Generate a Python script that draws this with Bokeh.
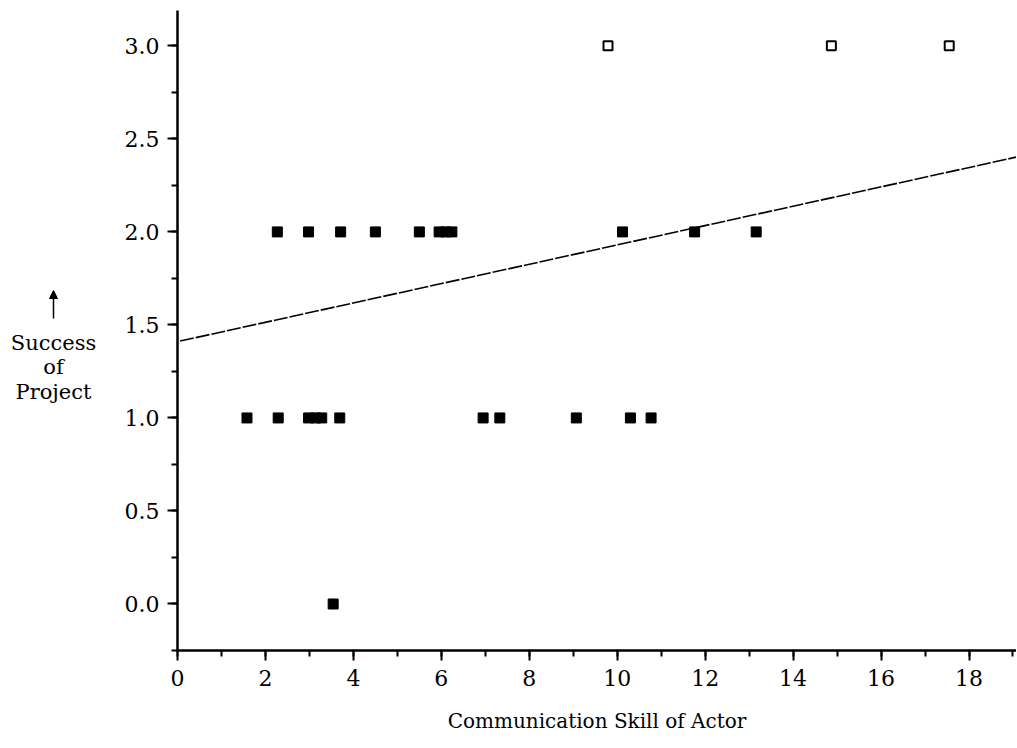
from bokeh.plotting import figure
from bokeh.layouts import row
from bokeh.models import Arrow, NormalHead, SingleIntervalTicker, PrintfTickFormatter, Range1d, Slope
from bokeh.core.properties import value
from bokeh.embed import file_html
from bokeh.resources import INLINE

# Data
x_filled_2 = [2.27, 2.98, 3.71, 4.50, 5.50, 5.95, 6.10, 6.24, 10.12, 11.76, 13.16]
y_filled_2 = [2.0] * len(x_filled_2)
x_filled_1 = [1.58, 2.29, 2.98, 3.14, 3.28, 3.69, 6.95, 7.33, 9.07, 10.30, 10.77]
y_filled_1 = [1.0] * len(x_filled_1)
x_filled_0 = [3.54]
y_filled_0 = [0.0]
x_open = [9.79, 14.87, 17.55]
y_open = [3.0, 3.0, 3.0]
fit_intercept = 1.41
fit_slope = 0.052

x_title = "Communication Skill of Actor"
y_title_lines = ["Success", "of", "Project"]

FONT = "DejaVu Serif"
H = 746
LEFT_W = 107
FRAME_TOP = 10
FRAME_BOTTOM = 650

# ---- left panel holding the horizontal y-axis title (its frame aligns with the main frame) ----
lp = figure(width=LEFT_W, height=H, output_backend="svg", toolbar_location=None,
            x_range=Range1d(0, LEFT_W), y_range=Range1d(FRAME_BOTTOM, FRAME_TOP),
            min_border_left=0, min_border_right=0, min_border_top=FRAME_TOP,
            min_border_bottom=H - FRAME_BOTTOM)
lp.axis.visible = False
lp.grid.visible = False
lp.outline_line_color = None
lp.background_fill_color = "white"
lp.border_fill_color = "white"
lp.text(x=[53, 53, 53], y=[342, 366, 391], text=y_title_lines, text_align="center",
        text_baseline="alphabetic", text_font=value(FONT), text_font_size="21px", text_color="black")
lp.add_layout(Arrow(x_start=53, y_start=318, x_end=53, y_end=290,
                    line_color="black", line_width=1.5,
                    end=NormalHead(size=8, fill_color="black", line_color="black")))

# ---- main plot ----
p = figure(width=1016 - LEFT_W, height=H, output_backend="svg", toolbar_location=None,
           x_range=Range1d(0, 19.08), y_range=Range1d(-0.25, 3.19),
           min_border_left=177 - LEFT_W, min_border_right=0, min_border_top=FRAME_TOP,
           min_border_bottom=H - FRAME_BOTTOM)
p.outline_line_color = None
p.grid.visible = False
p.background_fill_color = "white"
p.border_fill_color = "white"

xf = x_filled_2 + x_filled_1 + x_filled_0
yf = y_filled_2 + y_filled_1 + y_filled_0
p.scatter(xf, yf, marker="square", size=10, fill_color="black", line_color="black", line_width=1)
p.scatter(x_open, y_open, marker="square", size=9, fill_color="white", line_color="black", line_width=2)

p.add_layout(Slope(gradient=fit_slope, y_intercept=fit_intercept, line_color="black",
                   line_width=1.6, line_dash="14 2"))

for ax in (p.xaxis[0], p.yaxis[0]):
    ax.axis_line_color = "black"
    ax.axis_line_width = 2.5
    ax.major_tick_line_color = "black"
    ax.minor_tick_line_color = "black"
    ax.major_tick_line_width = 2
    ax.minor_tick_line_width = 2
    ax.major_tick_in = 0
    ax.minor_tick_in = 0
    ax.major_tick_out = 10
    ax.minor_tick_out = 6
    ax.major_label_text_font = FONT
    ax.major_label_text_font_size = "22px"
    ax.major_label_text_color = "black"

p.xaxis[0].ticker = SingleIntervalTicker(interval=2, num_minor_ticks=2)
p.xaxis[0].major_label_standoff = 9
p.xaxis[0].axis_label = x_title
p.xaxis[0].axis_label_text_font = FONT
p.xaxis[0].axis_label_text_font_size = "20px"
p.xaxis[0].axis_label_text_font_style = "normal"
p.xaxis[0].axis_label_text_color = "black"
p.xaxis[0].axis_label_standoff = 20

p.yaxis[0].ticker = SingleIntervalTicker(interval=0.5, num_minor_ticks=2)
p.yaxis[0].formatter = PrintfTickFormatter(format="%.1f")
p.yaxis[0].major_label_standoff = 8

layout = row(lp, p, spacing=0)
open("out.html", "w").write(file_html(layout, INLINE))
